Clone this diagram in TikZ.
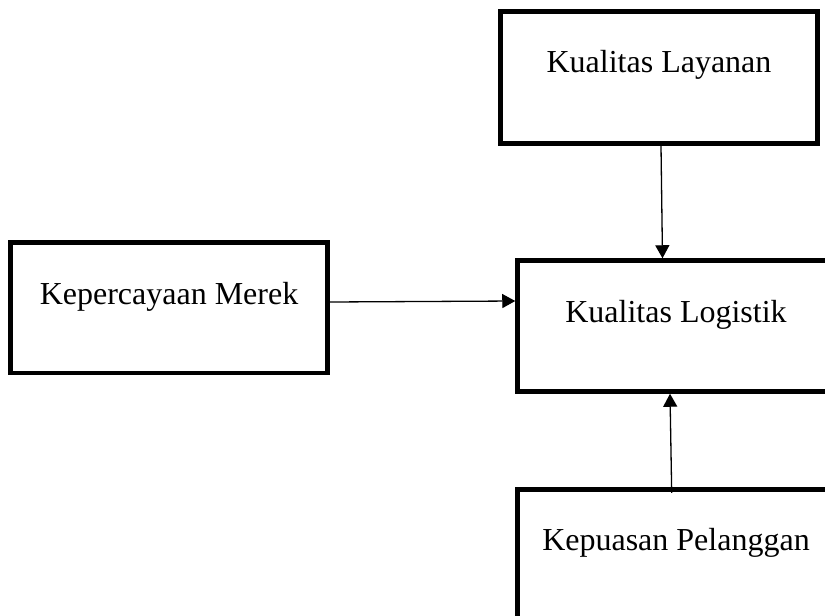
\documentclass[tikz,border=0pt]{standalone}
\usepackage{fontspec}
\setmainfont{Liberation Serif}
\usetikzlibrary{arrows.meta}
\begin{document}
\begin{tikzpicture}[x=1pt,y=-1pt,
  box/.style={draw=black, line width=4.5pt, rectangle, minimum width=317pt, inner sep=0pt},
  lbl/.style={font=\fontsize{32}{38}\selectfont, inner sep=0pt, anchor=base},
  arr/.style={draw=black, line width=1.3pt, -{Triangle[length=13pt,width=14pt]}}]
\useasboundingbox (0,0) rectangle (825,616);
\clip (0,0) rectangle (825,616);
\fill[white] (0,0) rectangle (825,616);
\node[box, minimum height=132pt] (lay) at (659,77.5) {};
\node[box, minimum height=130.5pt] (mer) at (169,307.75) {};
\node[box, minimum height=131pt] (log) at (676,326) {};
\node[box, minimum height=132pt] (pel) at (676,555.5) {};
\node[lbl] (layt) at ([yshift=-63.5pt]lay.north) {Kualitas Layanan};
\node[lbl] (mert) at ([yshift=-64pt]mer.north) {Kepercayaan Merek};
\node[lbl] (logt) at ([yshift=-64pt]log.north) {Kualitas Logistik};
\node[lbl] (pelt) at ([yshift=-63pt]pel.north) {Kepuasan Pelanggan};
\draw[arr] ([xshift=2pt]lay.south) -- ([xshift=-13.5pt]log.north);
\draw[arr] ([yshift=5.75pt]mer.east) -- ([yshift=25pt]log.west);
\draw[arr] ([xshift=-4.3pt,yshift=-5.5pt]pel.north) -- ([xshift=-6pt]log.south);
\end{tikzpicture}
\end{document}
